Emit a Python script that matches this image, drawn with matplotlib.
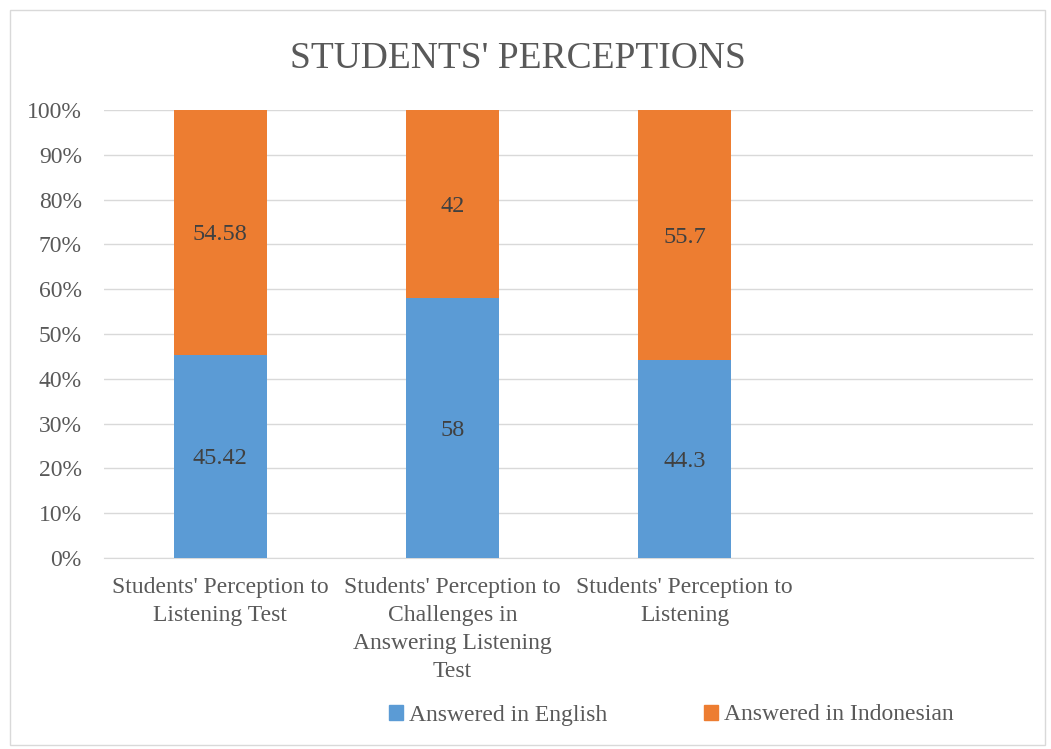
import matplotlib
matplotlib.use("Agg")
import matplotlib.pyplot as plt
from matplotlib.patches import Rectangle, Patch
import numpy as np

categories = ["Students' Perception to\nListening Test",
              "Students' Perception to\nChallenges in\nAnswering Listening\nTest",
              "Students' Perception to\nListening",
              ""]
english = [45.42, 58, 44.3, np.nan]
indonesian = [54.58, 42, 55.7, np.nan]
series_names = ["Answered in English", "Answered in Indonesian"]
colors = ["#5B9BD5", "#ED7D31"]
title = "STUDENTS' PERCEPTIONS"

plt.rcParams['font.family'] = ['Liberation Serif', 'DejaVu Serif']
txt = "#595959"

W, H = 1051, 749
fig = plt.figure(figsize=(W/100, H/100), dpi=100)
ax = fig.add_axes([104/W, 1-558/H, (1033-104)/W, (558-110)/H])

x = np.arange(len(categories))
eng = np.array(english)
ind = np.array(indonesian)
tot = eng + ind
ep = eng / tot * 100
ip = ind / tot * 100
w = 0.4
ax.bar(x, ep, width=w, color=colors[0], zorder=3)
ax.bar(x, ip, bottom=ep, width=w, color=colors[1], zorder=3)
for i in range(len(categories)):
    if np.isnan(eng[i]):
        continue
    ax.text(x[i], ep[i]/2, f"{english[i]:g}", ha='center', va='center_baseline', fontsize=17.5, color="#404040", zorder=4)
    ax.text(x[i], ep[i] + ip[i]/2, f"{indonesian[i]:g}", ha='center', va='center_baseline', fontsize=17.5, color="#404040", zorder=4)

ax.set_xlim(-0.5, len(categories)-0.5)
ax.set_ylim(0, 100)
ax.set_yticks(np.arange(0, 101, 10))
ax.set_yticklabels([f"{v}%" for v in range(0, 101, 10)])
ax.yaxis.grid(True, color="#D9D9D9", linewidth=1, zorder=0)
ax.set_xticks(x)
ax.set_xticklabels(categories, linespacing=1.42)
ax.tick_params(axis='both', length=0, labelsize=17, labelcolor=txt)
ax.tick_params(axis='y', pad=16)
ax.tick_params(axis='x', pad=14)
for s in ['top', 'right', 'left']:
    ax.spines[s].set_visible(False)
ax.spines['bottom'].set_color("#D9D9D9")

fig.text(518/W, 1-59/H, title, ha='center', va='center', fontsize=27, color=txt)

handles = [Patch(color=c) for c in colors]
fig.legend(handles, series_names, loc='center', bbox_to_anchor=(671/W, 1-715/H), ncol=2,
           frameon=False, fontsize=17, labelcolor=txt, handlelength=0.6, handleheight=0.6,
           handletextpad=0.25, columnspacing=4.1)

fig.patches.append(Rectangle((10/W, 4/H), (1045-10)/W, (745-10)/H, transform=fig.transFigure,
                             fill=False, edgecolor="#D9D9D9", linewidth=1))
fig.savefig("out.png", dpi=100)
